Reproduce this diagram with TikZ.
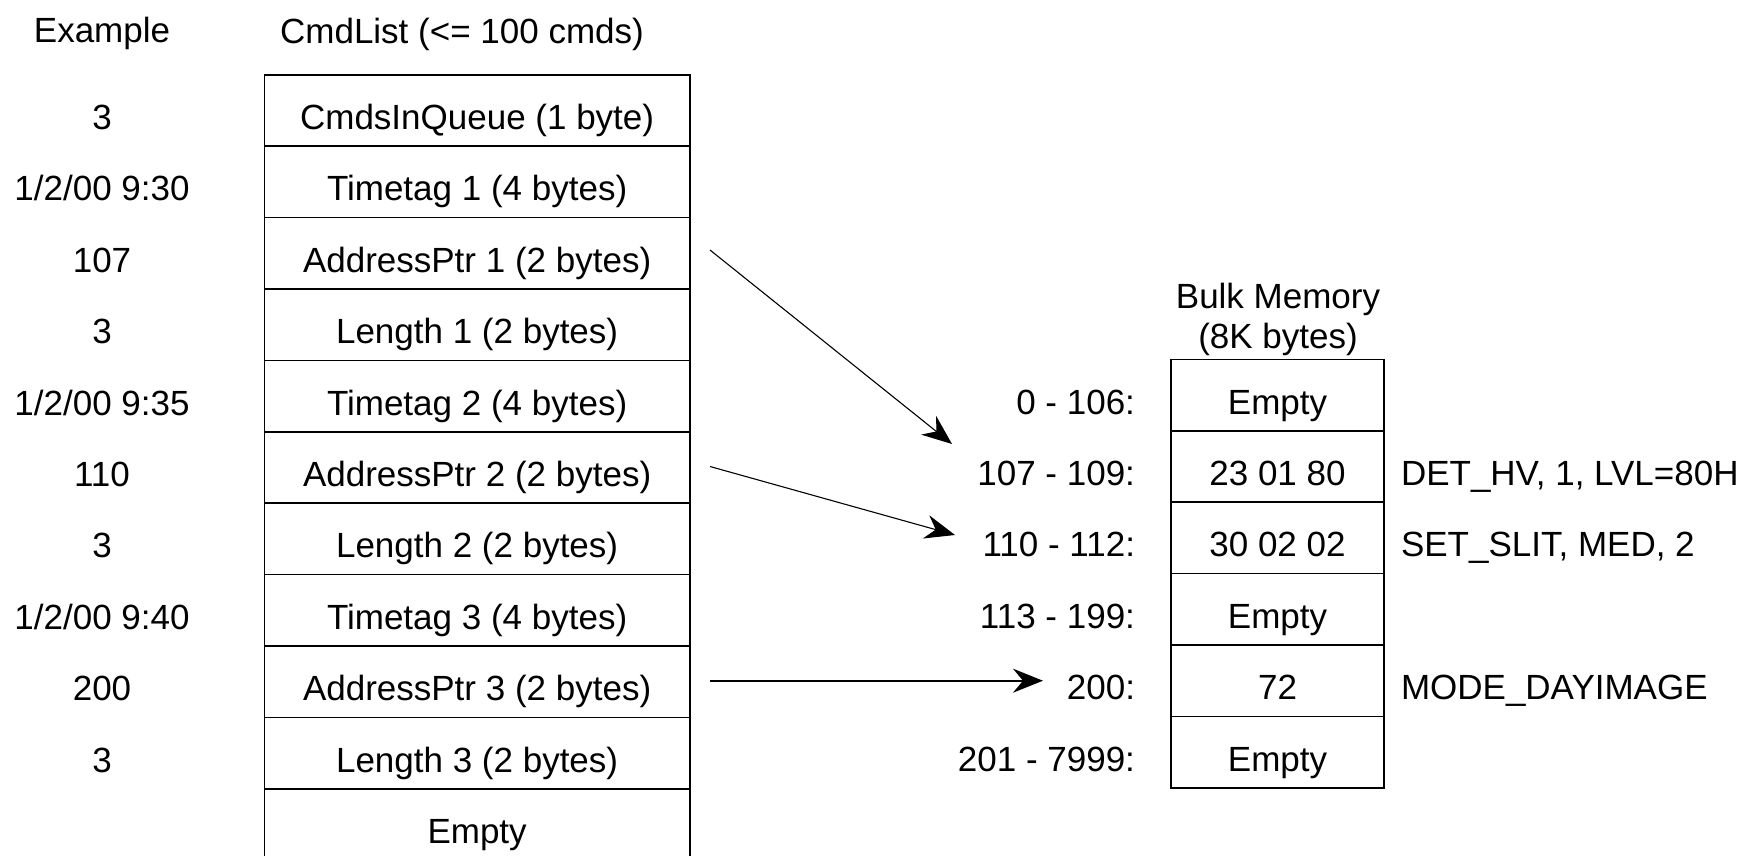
\documentclass[tikz,border=0pt]{standalone}
\usepackage{fontspec}
\setmainfont{Liberation Sans}
\usetikzlibrary{arrows.meta}
\begin{document}
\begin{tikzpicture}[x=1pt,y=-1pt,
  every node/.style={font=\fontsize{35}{40}\selectfont,inner sep=0pt,outer sep=0pt,
    text height=38pt,text depth=0pt},
  cmdcell/.style={draw,line width=1.6pt,minimum width=425.2pt,minimum height=71.4pt,anchor=north west},
  memcell/.style={draw,line width=1.6pt,minimum width=213pt,minimum height=71.4pt,anchor=north west},
  addr/.style={anchor=east},
  note/.style={anchor=west},
  ptr/.style={line width=1.1pt,-{Stealth[length=30pt,width=24pt,inset=10pt]}}]
\useasboundingbox (0,0) rectangle (1750,855);

% column headings
\node (exhead) at (102,23.5) {Example};
\node (cmdhead) at (462,24) {CmdList (<= 100 cmds)};

% command list table
\foreach \t [count=\i from 0] in {CmdsInQueue (1 byte),Timetag 1 (4 bytes),AddressPtr 1 (2 bytes),
    Length 1 (2 bytes),Timetag 2 (4 bytes),AddressPtr 2 (2 bytes),Length 2 (2 bytes),
    Timetag 3 (4 bytes),AddressPtr 3 (2 bytes),Length 3 (2 bytes),Empty}
  \node[cmdcell] (cmd\i) at (264.5,74.8+\i*71.4) {\t};

% example values beside each entry
\foreach \t [count=\i from 0] in {3,1/2/00 9:30,107,3,1/2/00 9:35,110,3,1/2/00 9:40,200,3}
  \node (ex\i) at (102,110.5+\i*71.4) {\t};

% bulk memory heading and table
\node (memhead1) at (1278,289.5) {Bulk Memory};
\node (memhead2) at (1278,329.5) {(8K bytes)};
\foreach \t [count=\i from 0] in {Empty,23 01 80,30 02 02,Empty,72,Empty}
  \node[memcell] (mem\i) at (1171,359.4+\i*71.4) {\t};

% address ranges
\foreach \t [count=\i from 0] in {0 - 106:,107 - 109:,110 - 112:,113 - 199:,200:,201 - 7999:}
  \node[addr] (addr\i) at (1135,395.1+\i*71.4) {\t};

% decoded commands
\node[note] (dec1) at (1401,466.5) {DET\_HV, 1, LVL=80H};
\node[note] (dec2) at (1401,537.9) {SET\_SLIT, MED, 2};
\node[note] (dec4) at (1401,680.7) {MODE\_DAYIMAGE};

% pointers into bulk memory
\coordinate (p1s) at (710,250);
\coordinate (p1e) at (952,444);
\coordinate (p2s) at (710,466.5);
\coordinate (p2e) at (955,535);
\coordinate (p3s) at (710,680.7);
\coordinate (p3e) at (1043,680.7);
\draw[ptr] (p1s) -- (p1e);
\draw[ptr] (p2s) -- (p2e);
\draw[ptr,line width=1.6pt] (p3s) -- (p3e);
\end{tikzpicture}
\end{document}
